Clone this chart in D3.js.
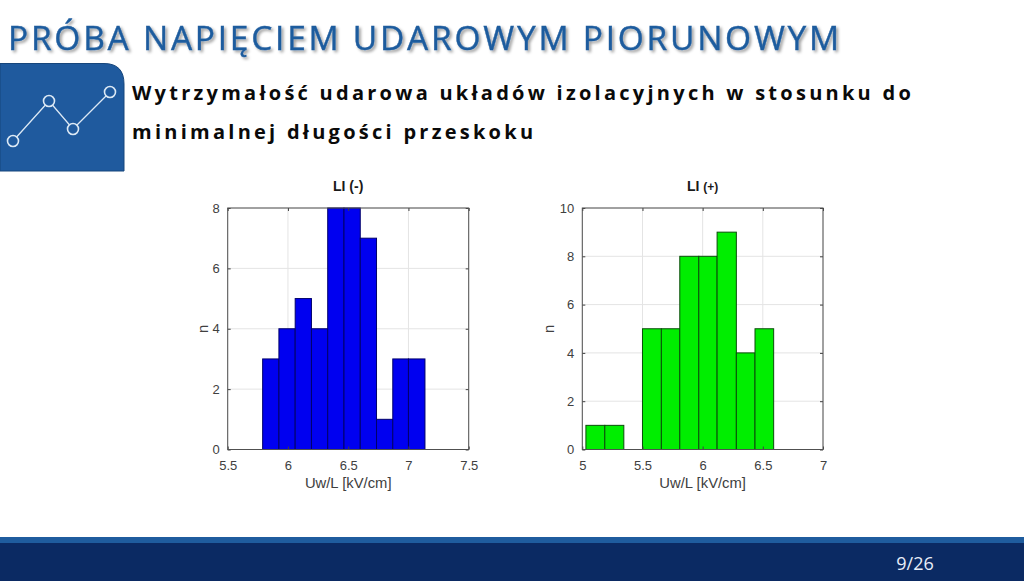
<!DOCTYPE html>
<html>
<head>
<meta charset="utf-8">
<script src="https://cdn.jsdelivr.net/npm/d3@7"></script>
<style>
  html, body { margin: 0; padding: 0; background: #fff; overflow: hidden; }
  text { font-family: "Liberation Sans", Arial, sans-serif; }
  .slide-text { font-family: "Open Sans", sans-serif; }
  .domain { display: none; }
</style>
</head>
<body>
<div class="container"></div>
<script>
// values
let leftEdges = [5.79, 5.925, 6.06, 6.195, 6.33, 6.465, 6.6, 6.735, 6.87, 7.0, 7.137]
let leftCounts = [3, 4, 5, 4, 8, 8, 7, 1, 3, 3]
let leftXTicks = [5.5, 6, 6.5, 7, 7.5]
let leftYTicks = [0, 2, 4, 6, 8]

let rightEdges = [5.03, 5.187, 5.345, 5.5, 5.657, 5.81, 5.968, 6.12, 6.28, 6.435, 6.59]
let rightCounts = [1, 1, 0, 5, 5, 8, 8, 9, 4, 5]
let rightXTicks = [5, 5.5, 6, 6.5, 7]
let rightYTicks = [0, 2, 4, 6, 8, 10]

let iconPoints = [[13, 141], [49, 101], [73, 129], [110, 92]]

let container = d3.select('.container')
    .append('svg')
    .attr('width', 1024)
    .attr('height', 586)
    .style('display', 'block')

let defs = container.append('defs')
let shadow = defs.append('filter').attr('id', 'titleShadow')
    .attr('x', '-5%').attr('y', '-30%').attr('width', '110%').attr('height', '170%')
shadow.append('feDropShadow')
    .attr('dx', 2).attr('dy', 2).attr('stdDeviation', 1.6)
    .attr('flood-color', '#000').attr('flood-opacity', 0.4)

// slide header
container.append('text')
    .attr('class', 'slide-text')
    .attr('x', 8)
    .attr('y', 50)
    .attr('font-size', 33.5)
    .attr('letter-spacing', 2.75)
    .attr('fill', '#1f5c9e')
    .attr('stroke', '#1f5c9e')
    .attr('stroke-width', 0.4)
    .attr('filter', 'url(#titleShadow)')
    .text('PRÓBA NAPIĘCIEM UDAROWYM PIORUNOWYM')

container.append('path')
    .attr('d', 'M0,63.5 H104 Q124,63.5 124,84 V171 H0 Z')
    .attr('fill', '#1f5a9e')
    .attr('stroke', '#17467c')

let iconLine = d3.line()
container.append('path')
    .attr('d', iconLine(iconPoints))
    .attr('fill', 'none')
    .attr('stroke', '#dce9f5')
    .attr('stroke-width', 1.3)

container.selectAll('.icon-dot')
    .data(iconPoints)
    .enter().append('circle')
    .attr('class', 'icon-dot')
    .attr('cx', d => d[0])
    .attr('cy', d => d[1])
    .attr('r', 5.5)
    .attr('fill', '#1f5a9e')
    .attr('stroke', '#dce9f5')
    .attr('stroke-width', 1.6)

let subtitle = ['Wytrzymałość udarowa układów izolacyjnych w stosunku do', 'minimalnej długości przeskoku']
container.selectAll('.subtitle')
    .data(subtitle)
    .enter().append('text')
    .attr('class', 'slide-text subtitle')
    .attr('x', 132)
    .attr('y', (d, i) => 100 + i * 39)
    .attr('font-size', 20)
    .attr('font-weight', 700)
    .attr('letter-spacing', 3.26)
    .attr('fill', '#0a0a0a')
    .text(d => d)

// footer
container.append('rect').attr('x', 0).attr('y', 537).attr('width', 1024).attr('height', 6).attr('fill', '#1f5c9e')
container.append('rect').attr('x', 0).attr('y', 543).attr('width', 1024).attr('height', 38).attr('fill', '#0b2a63')
container.append('text')
    .attr('class', 'slide-text')
    .attr('x', 915)
    .attr('y', 570)
    .attr('text-anchor', 'middle')
    .attr('font-size', 18)
    .attr('fill', '#e8eef8')
    .text('9/26')

function histogram(opt){
    let x = d3.scaleLinear().domain(opt.xDomain).range([opt.left, opt.right])
    let y = d3.scaleLinear().domain(opt.yDomain).range([449.5, 208])
    let g = container.append('g')

    // grid
    g.selectAll('.gx').data(opt.xTicks).enter().append('line')
        .attr('x1', d => x(d)).attr('x2', d => x(d))
        .attr('y1', y.range()[0]).attr('y2', y.range()[1])
        .attr('stroke', '#e4e4e4').attr('stroke-width', 1)
    g.selectAll('.gy').data(opt.yTicks).enter().append('line')
        .attr('x1', opt.left).attr('x2', opt.right)
        .attr('y1', d => y(d)).attr('y2', d => y(d))
        .attr('stroke', '#e4e4e4').attr('stroke-width', 1)

    // bars
    opt.counts.forEach(function(n, i){
        if (n === 0) return
        g.append('rect')
            .attr('x', x(opt.edges[i]))
            .attr('y', y(n))
            .attr('width', x(opt.edges[i + 1]) - x(opt.edges[i]))
            .attr('height', y(0) - y(n))
            .attr('fill', opt.color)
            .attr('stroke', opt.barStroke)
            .attr('stroke-width', 1)
    })

    // axes with inward ticks, on all four sides like the box of the original
    let styleAxis = function(sel){
        sel.selectAll('.tick line').attr('stroke', '#404040')
        sel.selectAll('.tick text').attr('fill', '#404040').attr('font-size', 13)
            .style('font-family', '"Liberation Sans", Arial, sans-serif')
    }
    let fmt = d => String(d)
    g.append('g').attr('transform', `translate(0,${y(0)})`)
        .call(d3.axisBottom(x).tickValues(opt.xTicks).tickFormat(fmt).tickSizeInner(-3).tickPadding(11))
        .call(styleAxis)
    g.append('g').attr('transform', `translate(0,${y.range()[1]})`)
        .call(d3.axisTop(x).tickValues(opt.xTicks).tickFormat('').tickSizeInner(-3))
        .call(styleAxis)
    g.append('g').attr('transform', `translate(${opt.left},0)`)
        .call(d3.axisLeft(y).tickValues(opt.yTicks).tickFormat(fmt).tickSizeInner(-3).tickPadding(8))
        .call(styleAxis)
    g.append('g').attr('transform', `translate(${opt.right},0)`)
        .call(d3.axisRight(y).tickValues(opt.yTicks).tickFormat('').tickSizeInner(-3))
        .call(styleAxis)

    g.append('rect')
        .attr('x', opt.left).attr('y', y.range()[1])
        .attr('width', opt.right - opt.left).attr('height', y.range()[0] - y.range()[1])
        .attr('fill', 'none').attr('stroke', '#505050').attr('stroke-width', 1)

    // labels
    let mid = (opt.left + opt.right) / 2
    let title = g.append('text')
        .attr('x', mid).attr('y', 191)
        .attr('text-anchor', 'middle')
        .attr('font-size', 14).attr('font-weight', 700).attr('fill', '#1a1a1a')
    title.append('tspan').text('LI ')
    title.append('tspan').attr('font-size', opt.signSize).text(opt.sign)

    g.append('text')
        .attr('x', mid).attr('y', 488)
        .attr('text-anchor', 'middle')
        .attr('font-size', 14.8).attr('fill', '#404040')
        .text('Uw/L [kV/cm]')

    g.append('text')
        .attr('transform', `translate(${opt.left - opt.nOffset},329) rotate(-90)`)
        .attr('text-anchor', 'middle')
        .attr('font-size', 14.8).attr('fill', '#404040')
        .text('n')
}

histogram({
    left: 227.7, right: 468.7,
    xDomain: [5.5, 7.5], yDomain: [0, 8],
    edges: leftEdges, counts: leftCounts,
    xTicks: leftXTicks, yTicks: leftYTicks,
    color: '#0000f0', barStroke: '#00006a',
    sign: '(-)', signSize: 14, nOffset: 20
})

histogram({
    left: 582.3, right: 823,
    xDomain: [5, 7], yDomain: [0, 10],
    edges: rightEdges, counts: rightCounts,
    xTicks: rightXTicks, yTicks: rightYTicks,
    color: '#00ee00', barStroke: '#0a4d0a',
    sign: '(+)', signSize: 12, nOffset: 28
})
</script>
</body>
</html>
